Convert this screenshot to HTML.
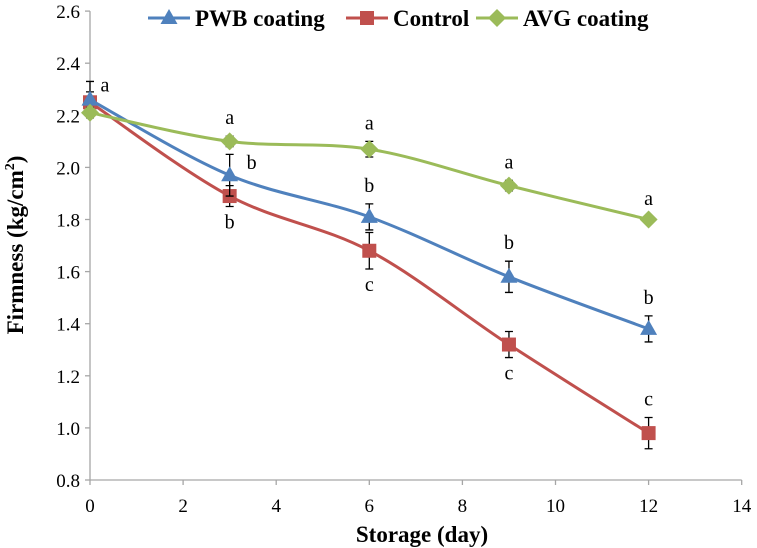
<!DOCTYPE html>
<html><head><meta charset="utf-8"><style>
body{margin:0;background:#fff}
svg{display:block}
svg text{font-family:"Liberation Serif","Times New Roman",serif}
</style></head><body>
<svg id="c" width="757" height="548" viewBox="0 0 757 548"></svg>
<script>
const days=[0,3,6,9,12];
const pwb=[2.26,1.97,1.81,1.58,1.38];
const pwbErr=[0.07,0.08,0.05,0.06,0.05];
const ctrl=[2.25,1.89,1.68,1.32,0.98];
const ctrlErr=[0.04,0.04,0.07,0.05,0.06];
const avg=[2.21,2.10,2.07,1.93,1.80];
const avgErr=[0.02,0.02,0.03,0.02,0.01];
const pwbLetters=["a","b","b","b","b"];
const ctrlLetters=["","b","c","c","c"];
const avgLetters=["","a","a","a","a"];
const xTicks=[0,2,4,6,8,10,12,14];
const yTicks=[0.8,1.0,1.2,1.4,1.6,1.8,2.0,2.2,2.4,2.6];

const NS="http://www.w3.org/2000/svg";
const svg=document.getElementById('c');
const X=v=>90+v*46.55;
const Y=v=>480-(v-0.8)*260.5;
function el(t,a,txt){const e=document.createElementNS(NS,t);for(const k in a)e.setAttribute(k,a[k]);if(t==='text')e.setAttribute('font-family','Liberation Serif, serif');if(txt!==undefined)e.textContent=txt;svg.appendChild(e);return e;}

let e;
e=el('line',{x1:90,y1:Y(2.6),x2:90,y2:480,stroke:'#a6a6a6','stroke-width':1.3});

e=el('line',{x1:90,y1:480,x2:X(14),y2:480,stroke:'#a6a6a6','stroke-width':1.3});

xTicks.forEach(t=>{
  el('line',{x1:X(t),y1:480,x2:X(t),y2:485,stroke:'#a6a6a6','stroke-width':1.3});
  e=el('text',{x:X(t),y:512,'text-anchor':'middle','font-size':19},String(t));
  
});
yTicks.forEach(t=>{
  el('line',{x1:85,y1:Y(t),x2:90,y2:Y(t),stroke:'#a6a6a6','stroke-width':1.3});
  e=el('text',{x:80,y:Y(t)+7,'text-anchor':'end','font-size':19},t.toFixed(1));
  
});
e=el('text',{x:422,y:542,'text-anchor':'middle','font-size':23,'font-weight':'bold'},'Storage (day)');

e=el('text',{transform:'translate(23,245) rotate(-90)','text-anchor':'middle','font-size':23,'font-weight':'bold'});
e.innerHTML='Firmness (kg/cm<tspan font-size="14" dy="-9">2</tspan><tspan dy="9">)</tspan>';


function smooth(vals){
  const p=days.map((d,i)=>[X(d),Y(vals[i])]);
  let s=`M${p[0][0]},${p[0][1]}`;
  for(let i=0;i<p.length-1;i++){
    const p0=p[i-1]||p[i],p1=p[i],p2=p[i+1],p3=p[i+2]||p[i+1];
    const c1=[p1[0]+(p2[0]-p0[0])/6,p1[1]+(p2[1]-p0[1])/6];
    const c2=[p2[0]-(p3[0]-p1[0])/6,p2[1]-(p3[1]-p1[1])/6];
    s+=`C${c1[0]},${c1[1]} ${c2[0]},${c2[1]} ${p2[0]},${p2[1]}`;
  }
  return s;
}
function marker(shape,x,y,col){
  if(shape==='tri')return el('polygon',{points:`${x},${y-9} ${x-8.5},${y+6} ${x+8.5},${y+6}`,fill:col});
  if(shape==='sq')return el('rect',{x:x-7,y:y-7,width:14,height:14,fill:col});
  return el('polygon',{points:`${x},${y-9} ${x+9},${y} ${x},${y+9} ${x-9},${y}`,fill:col});
}
function series(vals,errs,col,shape,name){
  e=el('path',{d:smooth(vals),fill:'none',stroke:col,'stroke-width':3});
  
  vals.forEach((v,i)=>{
    const x=X(days[i]);
    e=el('path',{d:`M${x},${Y(v+errs[i])}V${Y(v-errs[i])}M${x-4},${Y(v+errs[i])}H${x+4}M${x-4},${Y(v-errs[i])}H${x+4}`,stroke:'#000','stroke-width':1.3,fill:'none'});
    
  });
  vals.forEach((v,i)=>{
    e=marker(shape,X(days[i]),Y(v),col);
    
  });
}
series(ctrl,ctrlErr,'#c0504d','sq','control');
series(pwb,pwbErr,'#4f81bd','tri','pwb');
series(avg,avgErr,'#9bbb59','dia','avg');

function letters(arr,vals,errs,pos){
  arr.forEach((l,i)=>{
    if(!l)return;
    const x=X(days[i]);let tx=x,ty;
    if(pos==='above')ty=Y(vals[i]+errs[i])-12;
    else if(pos==='below')ty=Y(vals[i]-errs[i])+22;
    if(pos==='pwb'){ if(i===0){tx=x+15;ty=Y(vals[i])-8;} else if(i===1){tx=x+22;ty=Y(vals[i])-6;} else {tx=x;ty=Y(vals[i]+errs[i])-12;} }
    e=el('text',{x:tx,y:ty,'text-anchor':'middle','font-size':20},l);
    
  });
}
letters(pwbLetters,pwb,pwbErr,'pwb');
letters(ctrlLetters.map((l,i)=>i>=4?'':l),ctrl,ctrlErr,'below');
letters(ctrlLetters.map((l,i)=>i===4?l:''),ctrl,ctrlErr,'above');
letters(avgLetters,avg,avgErr,'above');

const legend=[['PWB coating','#4f81bd','tri',148],['Control','#c0504d','sq',346],['AVG coating','#9bbb59','dia',476]];
legend.forEach(([t,c,s,x])=>{
  el('line',{x1:x,y1:18,x2:x+42,y2:18,stroke:c,'stroke-width':3});
  marker(s,x+21,18,c);
  e=el('text',{x:x+47,y:26,'font-size':23,'font-weight':'bold'},t);
  
});
</script>
</body></html>
